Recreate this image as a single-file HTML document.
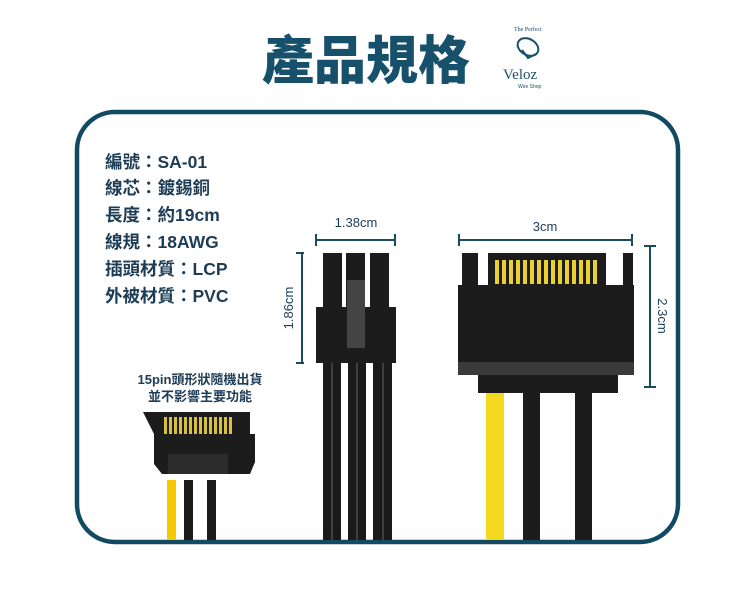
<!DOCTYPE html>
<html><head><meta charset="utf-8"><style>
body{margin:0;background:#fff;width:750px;height:595px;overflow:hidden}
svg{display:block}
text{font-family:"Liberation Sans","Noto Sans CJK TC",sans-serif}
</style></head><body>
<svg width="750" height="595" viewBox="0 0 750 595">
<text x="366" y="79" text-anchor="middle" font-size="52" font-weight="900" fill="#17506b" style="font-family:'Noto Sans CJK TC',sans-serif">產品規格</text>
<g fill="none" stroke="#17506b" stroke-width="2">
<ellipse cx="528" cy="47" rx="11" ry="8" transform="rotate(30 528 47)"/>
<path d="M522 50 l6 8 l8 -4"/>
</g>
<text x="514" y="31" font-size="6" fill="#17506b" style="font-family:'Liberation Serif',serif">The Perfect</text>
<text x="503" y="79" font-size="15" fill="#17506b" style="font-family:'Liberation Serif',serif">Veloz</text>
<text x="518" y="88" font-size="5" fill="#17506b">Wire Shop</text>
<rect x="77" y="112" width="601" height="430" rx="38" fill="none" stroke="#134a63" stroke-width="4.5"/>
<g font-size="17.5" font-weight="bold" fill="#1d3c55">
<text x="105" y="168">編號：SA-01</text>
<text x="105" y="194">線芯：鍍錫銅</text>
<text x="105" y="221">長度：約19cm</text>
<text x="105" y="248">線規：18AWG</text>
<text x="105" y="275">插頭材質：LCP</text>
<text x="105" y="302">外被材質：PVC</text>
</g>
<g font-size="13" font-weight="bold" fill="#1d3c55" text-anchor="middle">
<text x="200" y="384">15pin頭形狀隨機出貨</text>
<text x="200" y="401">並不影響主要功能</text>
</g>
<g stroke="#1b4a63" stroke-width="2" fill="none">
<path d="M316 240H395M316 234v12M395 234v12"/>
<path d="M459 240H632M459 234v12M632 234v12"/>
<path d="M302 253V363M296 253h8M296 363h8"/>
<path d="M650 246V387M644 246h12M644 387h12"/>
</g>
<g font-size="13" fill="#1d3c55" text-anchor="middle">
<text x="356" y="227">1.38cm</text>
<text x="545" y="231">3cm</text>
<text transform="translate(293 308) rotate(-90)">1.86cm</text>
<text transform="translate(658 316) rotate(90)">2.3cm</text>
</g>
<g fill="#1a1a1a"><rect x="323" y="360" width="18" height="180"/><rect x="348" y="360" width="18" height="180"/><rect x="373" y="360" width="19" height="180"/></g>
<g stroke="#666" stroke-width="1"><path d="M332 363V540M357 363V540M383 363V540"/></g>
<g fill="#1c1c1c"><rect x="323" y="253" width="19" height="56"/><rect x="346" y="253" width="19" height="56"/><rect x="370" y="253" width="19" height="56"/>
<rect x="316" y="307" width="80" height="56"/></g>
<rect x="347" y="280" width="18" height="68" fill="#444"/>
<rect x="486" y="390" width="18" height="150" fill="#f5d820"/>
<rect x="523" y="390" width="17" height="150" fill="#1c1c1c"/>
<rect x="575" y="390" width="17" height="150" fill="#1c1c1c"/>
<g fill="#1c1c1c"><rect x="462" y="253" width="16" height="34"/><rect x="623" y="253" width="10" height="34"/>
<rect x="488" y="253" width="118" height="34"/>
<rect x="458" y="285" width="176" height="90"/><rect x="478" y="374" width="140" height="19"/></g>
<rect x="458" y="362" width="176" height="13" fill="#3a3a3a"/>
<g fill="#e8d030">
<rect x="495" y="260" width="4" height="24"/><rect x="502" y="260" width="4" height="24"/><rect x="509" y="260" width="4" height="24"/><rect x="516" y="260" width="4" height="24"/><rect x="523" y="260" width="4" height="24"/><rect x="530" y="260" width="4" height="24"/><rect x="537" y="260" width="4" height="24"/><rect x="544" y="260" width="4" height="24"/><rect x="551" y="260" width="4" height="24"/><rect x="558" y="260" width="4" height="24"/><rect x="565" y="260" width="4" height="24"/><rect x="572" y="260" width="4" height="24"/><rect x="579" y="260" width="4" height="24"/><rect x="586" y="260" width="4" height="24"/><rect x="593" y="260" width="4" height="24"/>
</g>
<rect x="167" y="480" width="9" height="60" fill="#f5c800"/>
<rect x="184" y="480" width="9" height="60" fill="#1c1c1c"/>
<rect x="207" y="480" width="9" height="60" fill="#1c1c1c"/>
<path d="M143 412h14v22h80v-22h13v22h5v28l-5 12h-88l-8-10v-30z" fill="#1c1c1c"/>
<rect x="157" y="412" width="80" height="22" fill="#1c1c1c"/>
<g fill="#d8c040"><rect x="164" y="417" width="3" height="17"/><rect x="169" y="417" width="3" height="17"/><rect x="174" y="417" width="3" height="17"/><rect x="179" y="417" width="3" height="17"/><rect x="184" y="417" width="3" height="17"/><rect x="189" y="417" width="3" height="17"/><rect x="194" y="417" width="3" height="17"/><rect x="199" y="417" width="3" height="17"/><rect x="204" y="417" width="3" height="17"/><rect x="209" y="417" width="3" height="17"/><rect x="214" y="417" width="3" height="17"/><rect x="219" y="417" width="3" height="17"/><rect x="224" y="417" width="3" height="17"/><rect x="229" y="417" width="3" height="17"/></g>
<rect x="168" y="454" width="60" height="20" fill="#2c2c2c"/>
</svg>
</body></html>
